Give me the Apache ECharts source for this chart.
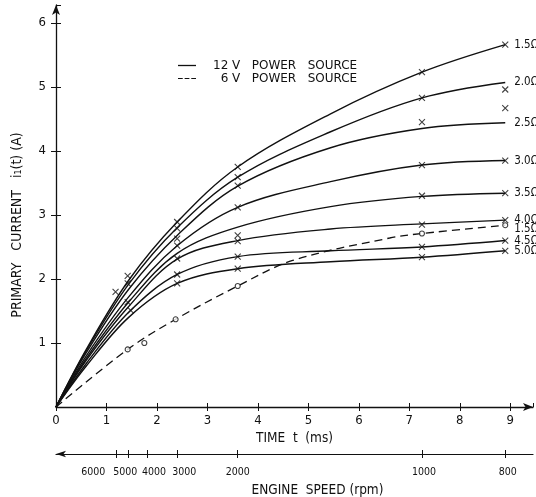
<!DOCTYPE html>
<html>
<head>
<meta charset="utf-8">
<script src="https://cdn.jsdelivr.net/npm/echarts@6/dist/echarts.min.js"></script>
<style>
  html, body { margin: 0; padding: 0; background: #fff; }
  #chart { width: 536px; height: 497px; }
</style>
</head>
<body>
<div id="chart"></div>
<script>
// time samples (ms) used for the fitted curves
const tGrid = [0, 0.6, 1.44, 2.4, 3.6, 5.44, 7.25, 8.9];

// 12 V curves, primary current (A) per coil resistance
const r15 = [0, 0.90, 1.98, 2.89, 3.75, 4.58, 5.23, 5.66];
const r20 = [0, 0.88, 1.92, 2.80, 3.59, 4.30, 4.83, 5.07];
const r25 = [0, 0.85, 1.84, 2.68, 3.45, 4.05, 4.35, 4.44];
const r30 = [0, 0.80, 1.72, 2.52, 3.12, 3.52, 3.78, 3.85];
const r35 = [0, 0.76, 1.64, 2.40, 2.81, 3.13, 3.29, 3.34];
const r40 = [0, 0.73, 1.57, 2.31, 2.60, 2.78, 2.86, 2.92];
const r45 = [0, 0.68, 1.48, 2.07, 2.35, 2.44, 2.50, 2.60];
const r50 = [0, 0.64, 1.40, 1.93, 2.16, 2.27, 2.34, 2.44];
const names12 = ['1.5Ω', '2.0Ω', '2.5Ω', '3.0Ω', '3.5Ω', '4.0Ω', '4.5Ω', '5.0Ω'];

// 6 V curve (1.5 ohm)
const t6 = [0, 1.42, 2.37, 3.6, 4.69, 6.61, 7.25, 8.9];
const v6 = [0, 0.90, 1.37, 1.89, 2.29, 2.64, 2.71, 2.84];

// measured points
const cross12 = [
  [1.18, 1.80], [1.42, 2.05], [1.42, 1.93], [1.42, 1.64], [1.48, 1.51],
  [2.4, 2.89], [2.4, 2.79], [2.4, 2.63], [2.4, 2.52], [2.4, 2.32], [2.4, 2.07], [2.4, 1.93],
  [3.6, 3.75], [3.6, 3.59], [3.6, 3.46], [3.6, 3.12], [3.6, 2.68], [3.6, 2.59], [3.6, 2.35], [3.6, 2.16],
  [7.25, 5.23], [7.25, 4.83], [7.25, 4.45], [7.25, 3.78], [7.25, 3.30], [7.25, 2.85], [7.25, 2.50], [7.25, 2.34],
  [8.9, 5.66], [8.9, 4.96], [8.9, 4.67], [8.9, 3.85], [8.9, 3.34], [8.9, 2.92], [8.9, 2.60], [8.9, 2.44]
];
const circle6 = [[1.42, 0.90], [1.75, 1.0], [2.37, 1.37], [3.6, 1.89], [7.25, 2.71], [8.9, 2.84]];

// engine speed scale (rpm) and where it falls on the time axis
const rpmLabels = ['6000', '5000', '4000', '3000', '2000', '1000', '800'];
const rpmTimes = [1.2, 1.44, 1.8, 2.4, 3.6, 7.25, 8.9];

const leg12 = '12 V   POWER   SOURCE';
const leg6 = '\u20076 V   POWER   SOURCE';

// label nudges so the crowded rpm numbers don't overlap
const rpmNudge = [-0.46, -0.07, 0.14, 0.14, 0, 0.04, 0.05];
const rpmLabelPos = rpmTimes.map((t, i) => +(t + rpmNudge[i]).toFixed(3));

const FONT = '"DejaVu Sans Condensed", "DejaVu Sans", sans-serif';
const INK = '#111';

const curves12 = [r15, r20, r25, r30, r35, r40, r45, r50];

const series = curves12.map((vals, k) => ({
  name: leg12,
  type: 'line',
  smooth: 0.35,
  symbol: 'none',
  lineStyle: { color: INK, width: 1.4 },
  itemStyle: { color: INK },
  endLabel: {
    show: true,
    formatter: names12[k],
    distance: 9,
    color: INK,
    fontSize: 11.5,
    fontFamily: FONT
  },
  data: tGrid.map((t, i) => [t, vals[i]]),
  z: 3
}));

series.push({
  name: leg6,
  type: 'line',
  smooth: 0.35,
  symbol: 'none',
  lineStyle: { color: INK, width: 1.3, type: [8, 5] },
  itemStyle: { color: INK },
  endLabel: {
    show: true,
    formatter: '1.5Ω',
    distance: 9,
    offset: [0, 4],
    color: INK,
    fontSize: 11.5,
    fontFamily: FONT
  },
  data: t6.map((t, i) => [t, v6[i]]),
  z: 3
});

series.push({
  type: 'scatter',
  symbol: 'path://M0,0L10,10M10,0L0,10',
  symbolSize: 6,
  itemStyle: { color: 'transparent', borderColor: INK, borderWidth: 1.1 },
  data: cross12,
  z: 4
});

series.push({
  type: 'scatter',
  symbol: 'circle',
  symbolSize: 5,
  itemStyle: { color: '#fff', borderColor: INK, borderWidth: 1.1 },
  data: circle6,
  z: 4
});

const option = {
  backgroundColor: '#fff',
  animation: false,
  textStyle: { fontFamily: FONT, color: INK },
  legend: {
    orient: 'vertical',
    left: 173,
    top: 54,
    itemWidth: 18,
    itemHeight: 1.3,
    itemGap: 0,
    data: [
      { name: leg12, icon: 'rect' },
      { name: leg6, icon: 'path://M0,0h5v1h-5zM7,0h5v1h-5zM14,0h5v1h-5z' }
    ],
    itemStyle: { color: INK, borderWidth: 0 },
    textStyle: {
      fontFamily: '"DejaVu Sans", sans-serif', fontSize: 12, color: INK,
      lineHeight: 13, padding: [0, 0, 0, 12]
    }
  },
  grid: { left: 56, right: 3, top: 5, bottom: 90, outerBoundsMode: 'none' },
  xAxis: [
    {
      type: 'value', min: 0, max: 9.45, interval: 1,
      name: 'TIME  t  (ms)', nameLocation: 'middle', nameGap: 24,
      nameTextStyle: { fontSize: 13.5, fontFamily: FONT, color: INK },
      axisLine: { lineStyle: { color: INK, width: 1.3 }, symbol: ['none', 'arrow'], symbolSize: [6, 10] },
      axisTick: { length: 4, lineStyle: { color: INK } },
      axisLabel: { fontSize: 13, color: INK, margin: 7, showMaxLabel: false },
      splitLine: { show: false }
    },
    {
      type: 'value', min: 0, max: 9.45, interval: 1, position: 'bottom',
      axisLine: { show: false },
      axisTick: { inside: true, length: 4, lineStyle: { color: INK } },
      axisLabel: { show: false },
      splitLine: { show: false }
    },
    {
      type: 'value', min: 0, max: 9.45, position: 'bottom', offset: 47,
      name: 'ENGINE  SPEED (rpm)', nameLocation: 'middle', nameGap: 29,
      nameTextStyle: { fontSize: 13.5, fontFamily: FONT, color: INK, padding: [0, 0, 0, 46] },
      axisLine: { lineStyle: { color: INK, width: 1.2 }, symbol: ['arrow', 'none'], symbolSize: [5, 10] },
      axisTick: { length: 4, customValues: rpmTimes, lineStyle: { color: INK } },
      axisLabel: {
        fontSize: 10.5, color: INK, margin: 13,
        customValues: rpmLabelPos,
        formatter: v => {
          const k = rpmLabelPos.findIndex(p => Math.abs(p - v) < 1e-6);
          return k < 0 ? '' : rpmLabels[k];
        }
      },
      splitLine: { show: false }
    },
    {
      type: 'value', min: 0, max: 9.45, position: 'bottom', offset: 47,
      axisLine: { show: false },
      axisTick: { inside: true, length: 4, customValues: rpmTimes, lineStyle: { color: INK } },
      axisLabel: { show: false },
      splitLine: { show: false }
    }
  ],
  yAxis: [
    {
      type: 'value', min: 0, max: 6.28, interval: 1,
      name: 'PRIMARY   CURRENT   i₁(t) (A)', nameLocation: 'middle', nameGap: 32,
      nameTextStyle: { fontSize: 14, fontFamily: FONT, color: INK, padding: [0, 38, 0, 0] },
      axisLine: { lineStyle: { color: INK, width: 1.3 }, symbol: ['none', 'arrow'], symbolSize: [6, 10] },
      axisTick: { length: 5, lineStyle: { color: INK } },
      axisLabel: { fontSize: 13, color: INK, margin: 10, showMinLabel: false, showMaxLabel: false },
      splitLine: { show: false }
    },
    {
      type: 'value', min: 0, max: 6.28, interval: 1, position: 'left',
      axisLine: { show: false },
      axisTick: { inside: true, length: 5, lineStyle: { color: INK } },
      axisLabel: { show: false },
      splitLine: { show: false }
    }
  ],
  series: series
};

const chart = echarts.init(document.getElementById('chart'), null, { renderer: 'canvas' });
chart.setOption(option);
</script>
</body>
</html>
